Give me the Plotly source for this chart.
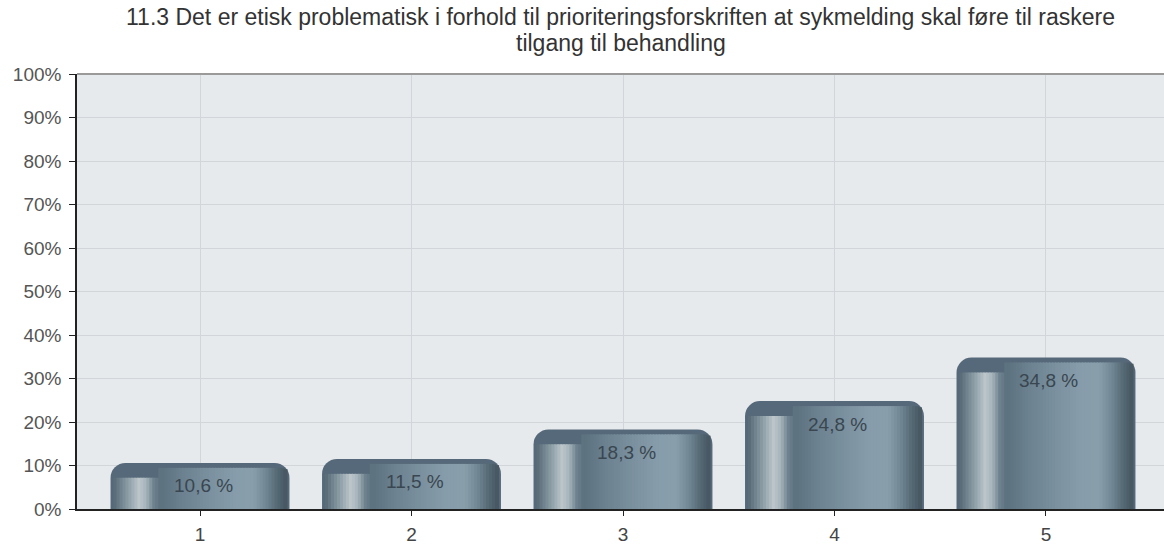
import plotly.graph_objects as go

categories = [1, 2, 3, 4, 5]
values = [10.6, 11.5, 18.3, 24.8, 34.8]
labels = ["10,6 %", "11,5 %", "18,3 %", "24,8 %", "34,8 %"]
y_ticks = [0, 10, 20, 30, 40, 50, 60, 70, 80, 90, 100]
title_lines = [
    "11.3 Det er etisk problematisk i forhold til prioriteringsforskriften at sykmelding skal føre til raskere",
    "tilgang til behandling",
]

# ---- styling helpers (cylinder shading of the bars) ----
W = 0.846            # bar width in category units
BAR_PX = 179.0       # bar width in pixels
PX_PER_PCT = 4.39    # pixels per percentage point
RADIUS = 15.0        # top corner radius in px
N = 60               # number of shading stripes

ctrl = [
    (0.00, "#4a5c67"), (0.05, "#6a7e8a"), (0.10, "#8e9ea7"), (0.16, "#bcc6cb"),
    (0.20, "#a6b3ba"), (0.24, "#6e838f"), (0.28, "#5c717e"), (0.40, "#6b8190"),
    (0.55, "#7a909e"), (0.70, "#879dab"), (0.80, "#889eaa"), (0.87, "#718693"),
    (0.93, "#566a76"), (1.00, "#404f58"),
]


def hex2rgb(h):
    h = h.lstrip("#")
    return [int(h[i:i + 2], 16) for i in (0, 2, 4)]


def colour_at(f):
    for (f0, c0), (f1, c1) in zip(ctrl[:-1], ctrl[1:]):
        if f0 <= f <= f1:
            t = (f - f0) / (f1 - f0) if f1 > f0 else 0
            a, b = hex2rgb(c0), hex2rgb(c1)
            r = [round(a[i] + (b[i] - a[i]) * t) for i in range(3)]
            return f"rgb({r[0]},{r[1]},{r[2]})"
    return ctrl[-1][1]


def cap_at(f):
    base_px = 15.0 if f < 0.27 else 5.0
    d = min(f, 1 - f) * BAR_PX
    arc = 0.0
    if d < RADIUS:
        arc = RADIUS - (RADIUS ** 2 - (RADIUS - d) ** 2) ** 0.5 + 2.0
    return max(base_px, arc) / PX_PER_PCT


fig = go.Figure()
fig.add_trace(go.Bar(
    x=categories, y=values, width=W,
    marker=dict(color="#56697a", cornerradius=RADIUS, line=dict(width=0)),
    hoverinfo="skip", showlegend=False,
))
step = 1.0 / N
for i in range(1, N - 1):
    f0 = i * step
    fm = f0 + step / 2
    cap = cap_at(fm)
    fig.add_trace(go.Bar(
        x=categories, y=[v - cap for v in values],
        offset=-W / 2 + f0 * W, width=step * W * 1.35,
        marker=dict(color=colour_at(fm), line=dict(width=0)),
        hoverinfo="skip", showlegend=False,
    ))

for xc, v, t in zip(categories, values, labels):
    fig.add_annotation(x=xc, y=v, text=t, showarrow=False, yshift=-23, xshift=3,
                       font=dict(family="Liberation Sans, Arial", size=19, color="#3a4650"))

for line, shift in zip(title_lines, [57, 31]):
    fig.add_annotation(xref="paper", yref="paper", x=0.5, y=1, yshift=shift, text=line,
                       showarrow=False, xanchor="center", yanchor="middle",
                       font=dict(family="Liberation Sans, Arial", size=23, color="#333333"))

fig.update_layout(
    barmode="overlay",
    width=1164, height=545,
    margin=dict(l=77, r=0, t=74, b=32),
    paper_bgcolor="white",
    plot_bgcolor="#e7eaed",
    font=dict(family="Liberation Sans, Arial", size=19, color="#555555"),
    xaxis=dict(range=[0.4184, 5.558], tickmode="array", tickvals=categories,
               ticktext=[str(c) for c in categories],
               showgrid=True, gridcolor="#d2d6da", gridwidth=1,
               showline=True, linecolor="#222222", linewidth=1.5,
               ticks="outside", ticklen=5, tickcolor="#222222",
               ticklabelstandoff=2,
               tickfont=dict(size=19, color="#444444"), zeroline=False),
    yaxis=dict(range=[0, 100], tickmode="array", tickvals=y_ticks,
               ticktext=[f"{t}%" for t in y_ticks],
               showgrid=True, gridcolor="#d2d6da", gridwidth=1,
               showline=True, linecolor="#222222", linewidth=1.5,
               ticks="outside", ticklen=6, tickcolor="#222222",
               ticklabelstandoff=4,
               tickfont=dict(size=19, color="#555555"), zeroline=False),
    shapes=[dict(type="line", xref="paper", yref="paper", x0=0, x1=1, y0=1, y1=1,
                 line=dict(color="#9a9a9a", width=2))],
)

fig.write_html("out.html", config={"displayModeBar": False},
               post_script="document.body.style.margin='0';document.body.style.overflow='hidden';")
